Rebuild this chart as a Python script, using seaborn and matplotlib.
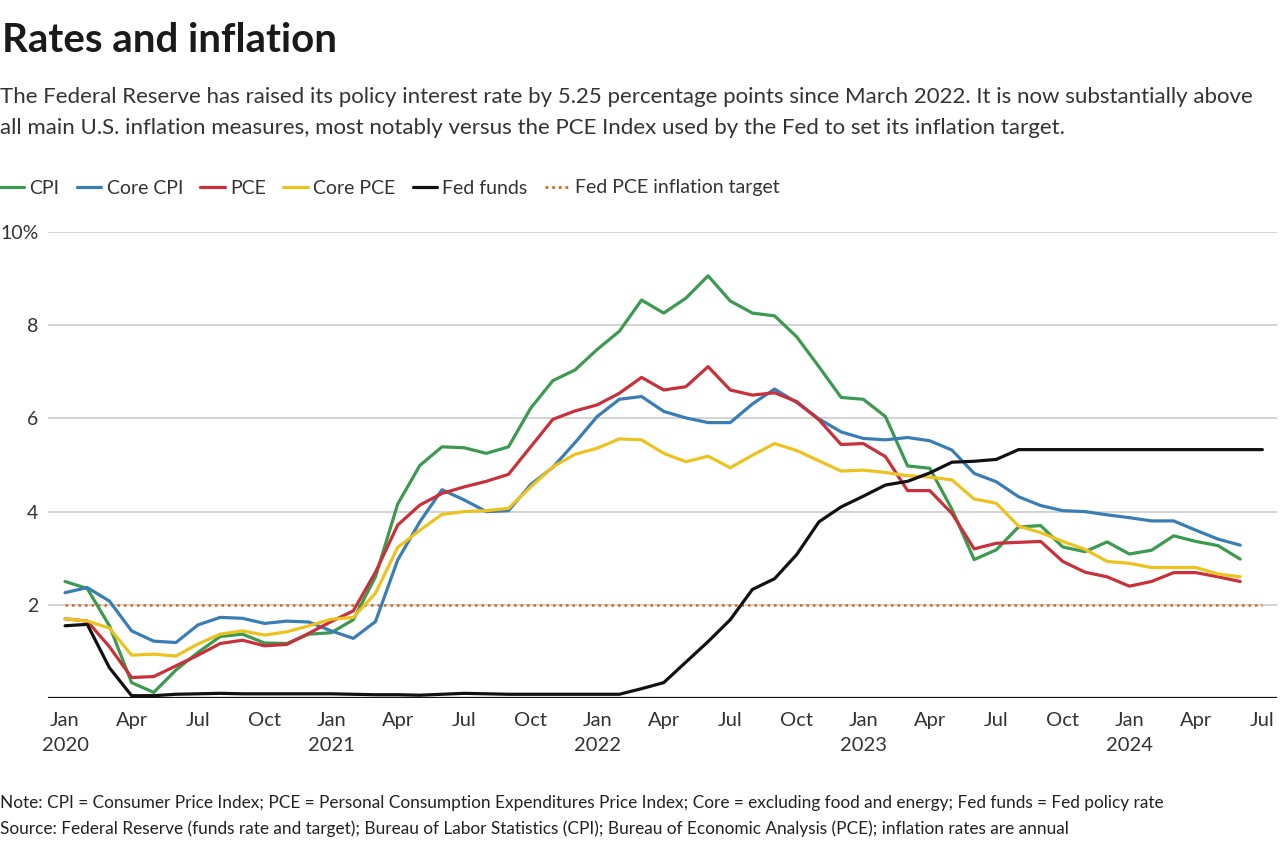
import numpy as np
import pandas as pd
import matplotlib
matplotlib.use("Agg")
import matplotlib.pyplot as plt
from matplotlib.lines import Line2D
import seaborn as sns

# monthly values, Jan 2020 - Jun 2024 (inflation, % y/y) and Jan 2020 - Jul 2024 (fed funds)
cpi = [2.5, 2.35, 1.55, 0.33, 0.12, 0.6, 0.98, 1.32, 1.37, 1.18, 1.17, 1.37,
       1.4, 1.68, 2.6, 4.16, 4.99, 5.39, 5.37, 5.25, 5.39, 6.22, 6.81, 7.04,
       7.48, 7.87, 8.54, 8.26, 8.58, 9.06, 8.52, 8.26, 8.2, 7.75, 7.11, 6.45,
       6.41, 6.04, 4.98, 4.93, 4.05, 2.97, 3.18, 3.67, 3.7, 3.24, 3.14, 3.35,
       3.09, 3.17, 3.48, 3.36, 3.27, 2.98]
core_cpi = [2.26, 2.37, 2.08, 1.44, 1.22, 1.19, 1.57, 1.73, 1.71, 1.6, 1.65, 1.63,
            1.44, 1.28, 1.64, 2.96, 3.78, 4.47, 4.25, 4.0, 4.02, 4.58, 4.95, 5.48,
            6.04, 6.41, 6.47, 6.15, 6.01, 5.91, 5.91, 6.31, 6.63, 6.34, 5.99, 5.71,
            5.57, 5.54, 5.59, 5.52, 5.32, 4.82, 4.64, 4.32, 4.13, 4.02, 4.0, 3.93,
            3.87, 3.8, 3.8, 3.6, 3.41, 3.28]
pce = [1.7, 1.65, 1.1, 0.44, 0.46, 0.69, 0.92, 1.17, 1.24, 1.12, 1.15, 1.39,
       1.64, 1.87, 2.7, 3.71, 4.14, 4.39, 4.53, 4.65, 4.8, 5.39, 5.98, 6.16,
       6.29, 6.54, 6.88, 6.61, 6.68, 7.11, 6.61, 6.5, 6.55, 6.36, 5.97, 5.44,
       5.46, 5.18, 4.45, 4.45, 3.96, 3.2, 3.32, 3.34, 3.36, 2.93, 2.7, 2.6,
       2.4, 2.5, 2.69, 2.69, 2.6, 2.5]
core_pce = [1.7, 1.65, 1.5, 0.92, 0.94, 0.9, 1.16, 1.37, 1.44, 1.35, 1.42, 1.55,
            1.69, 1.73, 2.25, 3.23, 3.6, 3.94, 4.0, 4.02, 4.07, 4.53, 4.96, 5.23,
            5.36, 5.56, 5.54, 5.25, 5.07, 5.19, 4.94, 5.21, 5.46, 5.31, 5.09, 4.87,
            4.89, 4.84, 4.77, 4.74, 4.68, 4.27, 4.18, 3.69, 3.55, 3.36, 3.19, 2.93,
            2.89, 2.8, 2.8, 2.8, 2.66, 2.6]
fed_funds = [1.55, 1.58, 0.65, 0.05, 0.05, 0.08, 0.09, 0.1, 0.09, 0.09, 0.09, 0.09,
             0.09, 0.08, 0.07, 0.07, 0.06, 0.08, 0.1, 0.09, 0.08, 0.08, 0.08, 0.08,
             0.08, 0.08, 0.2, 0.33, 0.77, 1.21, 1.68, 2.33, 2.56, 3.08, 3.78, 4.1,
             4.33, 4.57, 4.65, 4.83, 5.06, 5.08, 5.12, 5.33, 5.33, 5.33, 5.33, 5.33,
             5.33, 5.33, 5.33, 5.33, 5.33, 5.33, 5.33]
target = 2.0

series_names = ["CPI", "Core CPI", "PCE", "Core PCE", "Fed funds"]
tick_labels = ["Jan\n2020", "Apr", "Jul", "Oct", "Jan\n2021", "Apr", "Jul", "Oct",
               "Jan\n2022", "Apr", "Jul", "Oct", "Jan\n2023", "Apr", "Jul", "Oct",
               "Jan\n2024", "Apr", "Jul"]
y_ticks = [2, 4, 6, 8, 10]
y_labels = ["2", "4", "6", "8", "10%"]

colors = {"CPI": "#3b9a4f", "Core CPI": "#3a7db5", "PCE": "#c8303a",
          "Core PCE": "#ecc21f", "Fed funds": "#111111"}
target_color = "#d2691e"

frames = []
for name, vals in zip(series_names, [cpi, core_cpi, pce, core_pce, fed_funds]):
    frames.append(pd.DataFrame({"month": np.arange(len(vals)), "value": vals, "series": name}))
df = pd.concat(frames, ignore_index=True)

sns.set_theme(style="white")
plt.rcParams["font.family"] = ["Lato", "DejaVu Sans"]

fig = plt.figure(figsize=(12.8, 8.46), dpi=100)
ax = fig.add_axes([48 / 1280, 1 - 698 / 846, 1229 / 1280, (698 - 232) / 846])

# gridlines under the data
for yt in y_ticks:
    ax.axhline(yt, color="#c8c8c8", lw=1.1, zorder=0)

n_months = len(fed_funds)
ax.hlines(target, 0, n_months - 1, colors=target_color, lw=1.8,
          linestyles=(0, (1, 1.6)), zorder=1)

sns.lineplot(data=df, x="month", y="value", hue="series", hue_order=series_names,
             palette=colors, linewidth=2.3, legend=False, ax=ax, zorder=2)

ax.axhline(0, color="#111111", lw=1.6, zorder=3)

ax.set_xlim(-0.77, 54.66)
ax.set_ylim(0, 10)
ax.set_xticks(np.arange(0, n_months, 3))
ax.set_xticklabels(tick_labels)
ax.set_yticks(y_ticks)
ax.set_yticklabels(y_labels)
ax.tick_params(axis="both", length=0, labelsize=14.5, colors="#333333")
ax.tick_params(axis="x", pad=10)
ax.tick_params(axis="y", pad=7, labelsize=14)
for lab in ax.get_xticklabels():
    lab.set_linespacing(1.55)
ax.set_xlabel("")
ax.set_ylabel("")
for s in ax.spines.values():
    s.set_visible(False)

fig.text(2 / 1280, 1 - 52 / 846, "Rates and inflation", fontsize=29, fontweight="bold",
         color="#1a1a1a", va="baseline")
fig.text(0.0, 1 - 103 / 846,
         "The Federal Reserve has raised its policy interest rate by 5.25 percentage points since March 2022. "
         "It is now substantially above",
         fontsize=16.0, color="#333333", va="baseline")
fig.text(0.0, 1 - 134 / 846,
         "all main U.S. inflation measures, most notably versus the PCE Index used by the Fed to set its "
         "inflation target.",
         fontsize=16.0, color="#333333", va="baseline")

handles = [Line2D([], [], color=colors[n], lw=2.3) for n in series_names]
handles.append(Line2D([], [], color=target_color, lw=2.0, linestyle=(0, (1, 1.4))))
labels = series_names + ["Fed PCE inflation target"]
fig.legend(handles, labels, loc="center left", bbox_to_anchor=(0.0, 1 - 188 / 846),
           ncol=6, frameon=False, fontsize=14, handlelength=1.24, handletextpad=0.28,
           columnspacing=0.9, borderpad=0, borderaxespad=0, labelcolor="#333333")

fig.text(0.0, 1 - 808 / 846,
         "Note: CPI = Consumer Price Index; PCE = Personal Consumption Expenditures Price Index; "
         "Core = excluding food and energy; Fed funds = Fed policy rate",
         fontsize=12.4, color="#222222", va="baseline")
fig.text(0.0, 1 - 834 / 846,
         "Source: Federal Reserve (funds rate and target); Bureau of Labor Statistics (CPI); "
         "Bureau of Economic Analysis (PCE); inflation rates are annual",
         fontsize=12.4, color="#222222", va="baseline")

fig.savefig("out.png", dpi=100, facecolor="white")
